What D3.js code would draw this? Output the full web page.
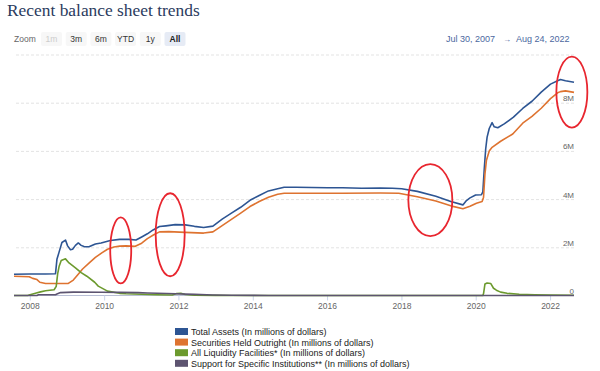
<!DOCTYPE html>
<html>
<head>
<meta charset="utf-8">
<script src="https://cdn.jsdelivr.net/npm/d3@7"></script>
<style>
  body { margin: 0; background: #fff; }
  svg { display: block; font-family: "Liberation Sans", Arial, sans-serif; }
</style>
</head>
<body>
<div id="chart"></div>
<script>
// values in millions of dollars
const totalAssets = [
  ["2007-07-30", 880000], ["2008-01-02", 890000], ["2008-06-04", 895000], ["2008-09-10", 905000],
  ["2008-09-24", 1500000], ["2008-10-15", 1800000], ["2008-11-12", 2200000], ["2008-12-17", 2300000],
  ["2009-01-07", 2060000], ["2009-02-04", 1900000], ["2009-02-25", 1920000], ["2009-03-25", 2080000],
  ["2009-04-22", 2180000], ["2009-05-20", 2080000], ["2009-06-17", 2030000], ["2009-08-05", 2020000],
  ["2009-10-07", 2140000], ["2009-12-02", 2180000], ["2010-03-03", 2280000], ["2010-06-02", 2330000],
  ["2010-09-01", 2330000], ["2010-11-10", 2300000], ["2011-01-05", 2430000], ["2011-03-02", 2560000],
  ["2011-04-27", 2720000], ["2011-06-29", 2860000], ["2011-08-31", 2890000], ["2011-11-30", 2940000],
  ["2012-03-07", 2930000], ["2012-06-06", 2870000], ["2012-09-05", 2820000], ["2012-12-05", 2880000],
  ["2013-03-06", 3170000], ["2013-06-05", 3420000], ["2013-09-04", 3660000], ["2013-12-04", 3950000],
  ["2014-03-05", 4150000], ["2014-06-04", 4340000], ["2014-09-03", 4430000], ["2014-11-05", 4490000],
  ["2015-03-04", 4490000], ["2015-08-05", 4480000], ["2016-01-06", 4470000], ["2016-06-01", 4470000],
  ["2016-12-07", 4450000], ["2017-06-07", 4460000], ["2017-10-04", 4450000], ["2018-01-03", 4430000],
  ["2018-06-06", 4320000], ["2018-12-05", 4120000], ["2019-05-01", 3900000], ["2019-08-28", 3760000],
  ["2019-10-02", 3940000], ["2019-11-06", 4050000], ["2019-12-31", 4170000], ["2020-02-26", 4180000],
  ["2020-03-11", 4300000], ["2020-03-25", 5250000], ["2020-04-08", 6080000], ["2020-04-22", 6570000],
  ["2020-05-13", 6930000], ["2020-06-10", 7170000], ["2020-07-01", 7000000], ["2020-08-05", 6960000],
  ["2020-10-07", 7120000], ["2021-01-06", 7400000], ["2021-04-07", 7760000], ["2021-07-07", 8060000],
  ["2021-10-06", 8440000], ["2022-01-05", 8770000], ["2022-03-16", 8910000], ["2022-04-13", 8960000],
  ["2022-06-01", 8910000], ["2022-08-24", 8850000]
];

const securitiesHeld = [
  ["2007-07-30", 800000], ["2007-12-26", 780000], ["2008-01-30", 710000], ["2008-03-12", 660000],
  ["2008-04-09", 550000], ["2008-06-04", 500000], ["2008-12-31", 495000], ["2009-01-14", 500000],
  ["2009-03-04", 640000], ["2009-04-15", 850000], ["2009-06-03", 1100000], ["2009-08-05", 1340000],
  ["2009-10-07", 1580000], ["2009-12-09", 1770000], ["2010-02-03", 1920000], ["2010-04-07", 2010000],
  ["2010-06-02", 2050000], ["2010-08-04", 2060000], ["2010-11-03", 2040000], ["2011-01-05", 2170000],
  ["2011-03-02", 2360000], ["2011-05-04", 2520000], ["2011-06-29", 2640000], ["2011-09-28", 2650000],
  ["2012-03-07", 2620000], ["2012-09-05", 2590000], ["2012-12-05", 2640000], ["2013-03-06", 2900000],
  ["2013-06-05", 3160000], ["2013-09-04", 3420000], ["2013-12-04", 3690000], ["2014-03-05", 3900000],
  ["2014-06-04", 4080000], ["2014-09-03", 4200000], ["2014-11-05", 4240000], ["2015-06-03", 4240000],
  ["2016-06-01", 4240000], ["2017-06-07", 4250000], ["2017-12-06", 4240000], ["2018-06-06", 4100000],
  ["2018-12-05", 3920000], ["2019-05-01", 3720000], ["2019-08-28", 3600000], ["2019-11-06", 3700000],
  ["2020-01-08", 3830000], ["2020-03-04", 3900000], ["2020-03-18", 4080000], ["2020-04-01", 5050000],
  ["2020-04-15", 5600000], ["2020-05-13", 6000000], ["2020-06-10", 6150000], ["2020-09-02", 6400000],
  ["2020-12-30", 6700000], ["2021-04-07", 7150000], ["2021-07-07", 7430000], ["2021-10-06", 7770000],
  ["2022-01-05", 8170000], ["2022-03-16", 8410000], ["2022-04-13", 8460000], ["2022-06-01", 8490000],
  ["2022-08-24", 8430000]
];

const liquidityFacilities = [
  ["2007-07-30", 0], ["2007-12-12", 0], ["2007-12-26", 20000], ["2008-03-05", 100000],
  ["2008-04-16", 150000], ["2008-06-04", 200000], ["2008-08-27", 240000], ["2008-09-17", 380000],
  ["2008-10-01", 900000], ["2008-10-15", 1200000], ["2008-11-05", 1450000], ["2008-12-17", 1520000],
  ["2009-01-21", 1350000], ["2009-03-25", 1150000], ["2009-05-20", 950000], ["2009-07-15", 800000],
  ["2009-09-30", 550000], ["2009-11-04", 390000], ["2010-02-03", 180000], ["2010-06-02", 90000],
  ["2010-08-04", 70000], ["2011-01-05", 50000], ["2011-06-01", 30000], ["2011-11-02", 20000],
  ["2011-12-14", 80000], ["2012-01-25", 90000], ["2012-03-07", 40000], ["2012-06-06", 15000],
  ["2013-01-02", 5000], ["2013-06-05", 0], ["2020-03-11", 0], ["2020-03-18", 80000],
  ["2020-04-01", 480000], ["2020-04-22", 520000], ["2020-05-27", 500000], ["2020-06-24", 300000],
  ["2020-07-22", 220000], ["2020-09-02", 140000], ["2020-11-04", 90000], ["2021-03-03", 50000],
  ["2021-08-04", 30000], ["2022-01-05", 15000], ["2022-08-24", 10000]
];

const specificSupport = [
  ["2007-07-30", 0], ["2008-03-12", 0], ["2008-03-26", 29000], ["2008-09-10", 29000],
  ["2008-09-24", 60000], ["2008-10-29", 120000], ["2009-03-04", 140000], ["2009-12-02", 135000],
  ["2010-06-02", 130000], ["2010-12-01", 120000], ["2011-03-02", 105000], ["2011-09-07", 80000],
  ["2012-06-06", 45000], ["2012-12-05", 20000], ["2013-06-05", 8000], ["2014-06-04", 1000],
  ["2022-08-24", 0]
];

const seriesNames = [
  "Total Assets (In millions of dollars)",
  "Securities Held Outright (In millions of dollars)",
  "All Liquidity Facilities* (In millions of dollars)",
  "Support for Specific Institutions** (In millions of dollars)"
];
const seriesColors = ["#2d5593", "#de7330", "#6c9a2e", "#5d5470"];

const yTicks = [0, 2000000, 4000000, 6000000, 8000000, 10000000];
const xTicks = ["2008-01-01", "2010-01-01", "2012-01-01", "2014-01-01", "2016-01-01", "2018-01-01", "2020-01-01", "2022-01-01"];
const zoomButtons = ["1m", "3m", "6m", "YTD", "1y", "All"];
const dateRange = ["Jul 30, 2007", "Aug 24, 2022"];

// red circles drawn on the chart (centre date / value)
const annotations = [
  ["2010-06-13", 1870000, 10.5, 33],
  ["2011-10-12", 2520000, 14.5, 41.5],
  ["2018-10-12", 3960000, 22, 36],
  ["2022-08-03", 8440000, 15.5, 35.5]
];

const W = 600, H = 371;
const parse = d3.timeParse("%Y-%m-%d");

let svg = d3.select("#chart").append("svg")
  .attr("width", W).attr("height", H);

// title
svg.append("text")
  .attr("x", 7).attr("y", 16)
  .style("font-family", "'Liberation Serif', 'Times New Roman', serif")
  .style("font-size", "17.4px")
  .attr("fill", "#2b3b5e")
  .text("Recent balance sheet trends");

// range selector buttons
svg.append("text")
  .attr("x", 14).attr("y", 42)
  .style("font-size", "8.5px").attr("fill", "#666")
  .text("Zoom");

let btn = svg.selectAll("g.btn")
  .data(zoomButtons)
  .enter().append("g")
    .attr("class", "btn")
    .attr("transform", (d, i) => "translate(" + (41 + i * 24.7) + ",32)");
btn.append("rect")
  .attr("width", 21).attr("height", 14).attr("rx", 2)
  .attr("fill", d => d === "All" ? "#e6ebf5" : "#f7f7f7");
btn.append("text")
  .attr("x", 10.5).attr("y", 10)
  .attr("text-anchor", "middle")
  .style("font-size", "8.5px")
  .style("font-weight", d => d === "All" ? "bold" : "normal")
  .attr("fill", d => d === "1m" ? "#cccccc" : (d === "All" ? "#222" : "#333"))
  .text(d => d);

svg.append("text")
  .attr("x", 446).attr("y", 41.5)
  .style("font-size", "9px").attr("fill", "#4b67a0")
  .text(dateRange[0]);
svg.append("text")
  .attr("x", 507).attr("y", 41.5)
  .attr("text-anchor", "middle")
  .style("font-size", "8px").attr("fill", "#4b67a0")
  .text("\u2192");
svg.append("text")
  .attr("x", 569.5).attr("y", 41.5)
  .attr("text-anchor", "end")
  .style("font-size", "9px").attr("fill", "#4b67a0")
  .text(dateRange[1]);

// scales
let x = d3.scaleTime()
  .domain([parse("2007-07-30"), parse("2022-08-24")])
  .range([14, 574]);
let y = d3.scaleLinear()
  .domain([0, 10000000])
  .range([295.5, 54.5]);

// Y grid + labels
let yAxis = svg.append("g")
  .attr("transform", "translate(574,0)")
  .call(d3.axisLeft(y).tickValues(yTicks).tickSize(560).tickPadding(0)
    .tickFormat(d => d === 0 ? "0" : (d === 10000000 ? "" : d / 1000000 + "M")));
yAxis.select(".domain").remove();
yAxis.selectAll(".tick line")
  .attr("stroke", "#e3e3e3")
  .attr("stroke-dasharray", "3,2")
  .attr("x1", 0).attr("x2", -560);
yAxis.selectAll(".tick text")
  .attr("x", 0).attr("dy", "-2")
  .attr("text-anchor", "end")
  .style("font-size", "8px")
  .style("font-family", "'Liberation Sans', Arial, sans-serif")
  .attr("fill", "#666");
yAxis.selectAll(".tick")
  .filter(d => d === 0).select("line").remove();

// X axis
let xAxis = svg.append("g")
  .attr("transform", "translate(0," + y(0) + ")")
  .call(d3.axisBottom(x).tickValues(xTicks.map(parse)).tickSize(5).tickPadding(2)
    .tickFormat(d3.timeFormat("%Y")));
xAxis.select(".domain").attr("stroke", "#b9bfd6").attr("d", "M14,0H574");
xAxis.selectAll(".tick line").attr("stroke", "#ccd6eb");
xAxis.selectAll(".tick text")
  .style("font-size", "8.5px")
  .style("font-family", "'Liberation Sans', Arial, sans-serif")
  .attr("fill", "#666");

// series
let line = d3.line()
  .x(d => x(parse(d[0])))
  .y(d => y(d[1]));

let allSeries = [totalAssets, securitiesHeld, liquidityFacilities, specificSupport];
svg.selectAll("path.series")
  .data(allSeries)
  .enter().append("path")
    .attr("class", "series")
    .attr("d", line)
    .attr("fill", "none")
    .attr("stroke", (d, i) => seriesColors[i])
    .attr("stroke-width", 1.6)
    .attr("stroke-linejoin", "round");

// annotations
svg.selectAll("ellipse.note")
  .data(annotations)
  .enter().append("ellipse")
    .attr("class", "note")
    .attr("cx", d => x(parse(d[0])))
    .attr("cy", d => y(d[1]))
    .attr("rx", d => d[2])
    .attr("ry", d => d[3])
    .attr("fill", "none")
    .attr("stroke", "#e8262f")
    .attr("stroke-width", 1.8);

// legend
let legend = svg.selectAll("g.legend")
  .data(seriesNames)
  .enter().append("g")
    .attr("class", "legend")
    .attr("transform", (d, i) => "translate(175," + (328 + i * 10.6) + ")");
legend.append("rect")
  .attr("width", 13).attr("height", 7)
  .attr("fill", (d, i) => seriesColors[i]);
legend.append("text")
  .attr("x", 16).attr("y", 7)
  .style("font-size", "9px")
  .attr("fill", "#222")
  .text(d => d);
</script>
</body>
</html>
